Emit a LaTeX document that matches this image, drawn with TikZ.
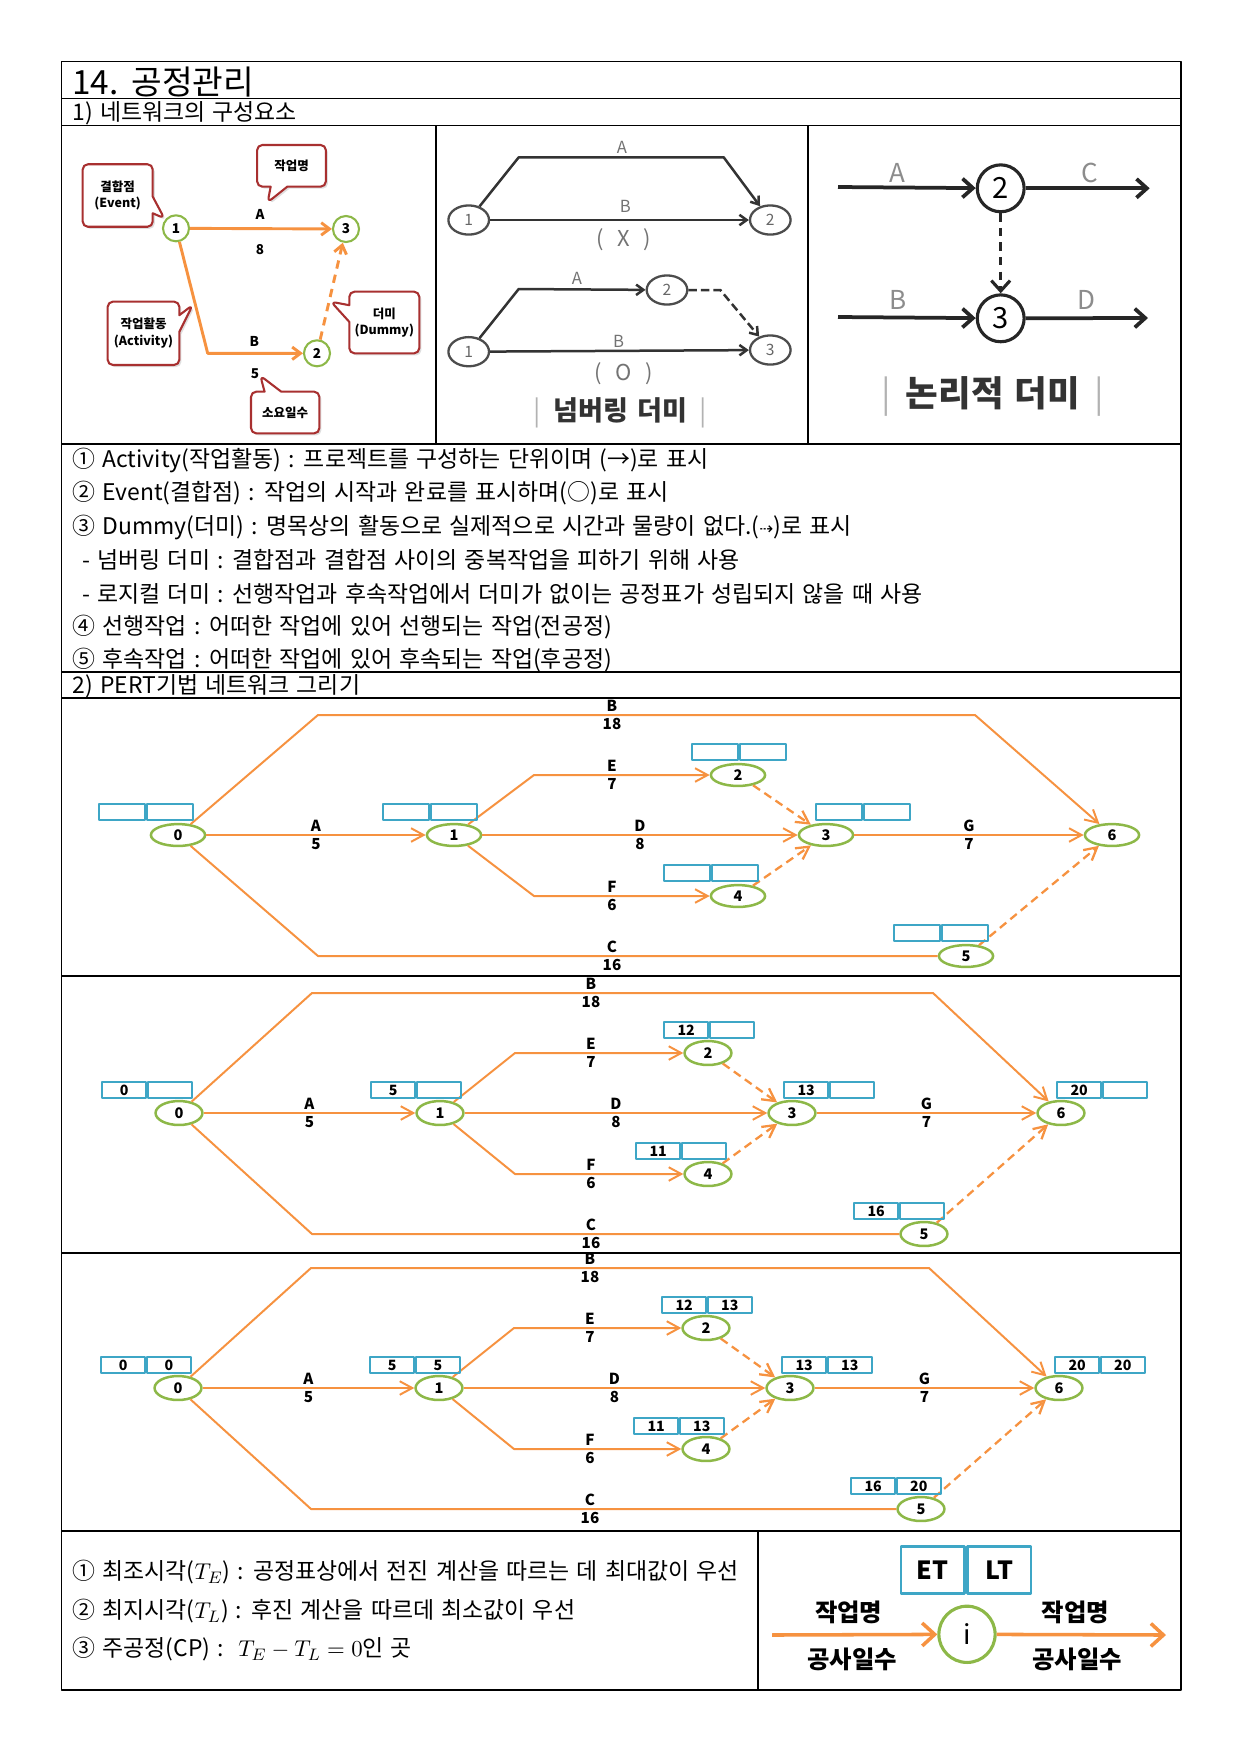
\documentclass[tikz,border=0pt]{standalone}
\usepackage{fontspec}
\setmainfont{Noto Sans CJK KR}[WordSpace=1.4]
\newfontfamily\symfont{DejaVu Sans}
\usetikzlibrary{arrows.meta,calc,shapes.geometric,shapes.callouts,shadows}
\definecolor{actorange}{RGB}{246,146,64}
\definecolor{evgreen}{RGB}{141,184,72}
\definecolor{boxblue}{RGB}{62,166,198}
\definecolor{notered}{RGB}{168,48,48}
\tikzset{
  ev/.style={ellipse, draw=evgreen, line width=1.2pt, inner sep=0pt, font=\fontsize{7}{7}\selectfont\bfseries},
  act/.style={draw=actorange, line width=0.95pt, -{Straight Barb[length=6pt,width=6.5pt]}},
  dum/.style={act, dash pattern=on 4pt off 2.5pt, line width=1.1pt},
  lbl/.style={inner sep=0pt, font=\fontsize{7.3}{7.3}\selectfont\bfseries},
  cell/.style={draw=boxblue, line width=0.9pt, minimum width=21pt, minimum height=7.5pt, inner sep=0pt, font=\fontsize{6.8}{6.8}\selectfont\bfseries},
  note/.style={rectangle callout, draw=notered, line width=1pt, rounded corners=2.5pt, fill=white, drop shadow={opacity=0.25, shadow xshift=1pt, shadow yshift=-1pt}, align=center, inner sep=1pt, font=\fontsize{6}{8}\selectfont\bfseries, callout pointer width=8pt},
  sev/.style={circle, draw=evgreen, line width=1pt, minimum size=12.5pt, inner sep=0pt, font=\fontsize{6.5}{6.5}\selectfont\bfseries},
  sact/.style={draw=actorange, line width=1.4pt, -{Straight Barb[length=4pt,width=6pt]}},
  slbl/.style={inner sep=0pt, font=\fontsize{6.5}{6.5}\selectfont\bfseries},
  mev/.style={ellipse, draw=black!70, line width=1.1pt, minimum width=19.5pt, minimum height=14pt, inner sep=0pt, text=black!60, font=\fontsize{7.5}{7.5}\selectfont},
  mline/.style={draw=black!80, line width=1.2pt, -{Straight Barb[length=3.5pt,width=5pt]}},
  mlbl/.style={inner sep=0pt, text=black!55, font=\fontsize{8}{8}\selectfont},
  rev/.style={circle, draw=black!85, line width=1.5pt, minimum size=22.5pt, inner sep=0pt, font=\fontsize{14}{14}\selectfont},
  rline/.style={draw=black!85, line width=1.8pt, -{Straight Barb[length=5pt,width=9pt]}},
  rlbl/.style={inner sep=0pt, text=black!45, font=\fontsize{12.5}{12.5}\selectfont},
  txt/.style={anchor=west, inner sep=0pt, font=\fontsize{11}{13}\selectfont},
  lcell/.style={draw=boxblue, line width=1.4pt, minimum width=30.5pt, minimum height=22.4pt, inner sep=0pt, font=\fontsize{12}{12}\selectfont\bfseries},
  ltxt/.style={inner sep=0pt, font=\fontsize{11.7}{12}\selectfont\bfseries},
  bigact/.style={draw=actorange, line width=1.7pt, -{Straight Barb[length=6pt,width=11pt]}}
}
\begin{document}
\begin{tikzpicture}[x=0.48pt, y=-0.48pt, line join=round]
\useasboundingbox (0,0) rectangle (1240,1755);
\draw[line width=0.6pt] (61.5,61.5) rectangle (1181,1690);
\foreach \y in {98.5,125.5,444,672,698,976,1253,1531} \draw[line width=0.6pt] (61.5,\y) -- (1181,\y);
\draw[line width=0.6pt] (436,125.5) -- (436,444) (808,125.5) -- (808,444) (758,1531) -- (758,1690);

\node[txt, font=\fontsize{16}{18}\selectfont] (title) at (72,82) {14. 공정관리};
\node[txt] (sec1) at (72,113.5) {1) 네트워크의 구성요소};
\node[txt] (sec2) at (72,686) {2) PERT기법 네트워크 그리기};

\node[sev] (e1) at (176,228.3) {1};
\node[sev] (e3) at (346,229) {3};
\node[sev] (e2) at (317,353.3) {2};
\coordinate (eB) at (207.7,353.3);
\draw[sact] (e1) -- (e3);
\draw[sact] (e1) -- (eB) -- (e2);
\draw[sact, dash pattern=on 4pt off 3pt] (e2) -- (e3);
\node[slbl] (eA) at (260,214) {A};
\node[slbl] (eA8) at (260,250) {8};
\node[slbl] (eBl) at (254.3,341) {B};
\node[slbl] (eB5) at (255,373.3) {5};
\node[note, minimum width=33.6pt, minimum height=30pt, callout absolute pointer={(164.3,218.3)}] (nEv) at (117.7,195.5) {결합점\\(Event)};
\node[note, minimum width=33pt, minimum height=20pt, callout absolute pointer={(267.7,202.3)}] (nName) at (291.5,165.8) {작업명};
\node[note, minimum width=34.4pt, minimum height=30.4pt, callout absolute pointer={(192.7,305)}] (nAct) at (143.5,333.3) {작업활동\\(Activity)};
\node[note, minimum width=33.6pt, minimum height=29.6pt, callout absolute pointer={(331,301.7)}] (nDum) at (384.3,322.5) {더미\\(Dummy)};
\node[note, minimum width=32.8pt, minimum height=20pt, callout absolute pointer={(260.3,375.7)}] (nDays) at (285.2,412.5) {소요일수};

\node[mev] (m1) at (468.7,220) {1};
\node[mev] (m2) at (770.3,220) {2};
\coordinate (mA1) at (518.7,157.3);
\coordinate (mA2) at (723.7,157.3);
\draw[mline] (m1) -- (mA1) -- (mA2) -- (m2);
\draw[mline] (m1) -- (m2);
\node[mlbl] (mA) at (622,147.7) {A};
\node[mlbl] (mB) at (625.3,206.7) {B};
\node[mlbl, font=\fontsize{10.5}{10.5}\selectfont] (mX) at (623.7,240) {(\ \ X\ \ )};
\node[mev] (q1) at (468.7,351.7) {1};
\node[mev] (q2) at (667,290) {2};
\node[mev] (q3) at (770.3,350) {3};
\coordinate (qA) at (518.7,289);
\coordinate (qD) at (720.3,290);
\draw[mline] (q1) -- (qA) -- (q2);
\draw[mline] (q1) -- (q3);
\draw[mline, dash pattern=on 4pt off 2pt] (q2) -- (qD) -- (q3);
\node[mlbl] (qAl) at (577,278.3) {A};
\node[mlbl] (qBl) at (618.7,341.7) {B};
\node[mlbl, font=\fontsize{10.5}{10.5}\selectfont] (qO) at (623.7,373.3) {(\ \ O\ \ )};
\node[inner sep=0pt, text=black!80, font=\fontsize{13}{13}\selectfont\bfseries] (numd) at (620.3,413.3) {{\color{black!30}\mdseries|}\hspace{6pt}넘버링 더미\hspace{6pt}{\color{black!30}\mdseries|}};

\node[rev] (r2) at (1000.7,188.3) {2};
\node[rev] (r3) at (1000.7,318.3) {3};
\coordinate (rA) at (838,187);
\coordinate (rC) at (1149.7,188.3);
\coordinate (rB) at (838,317);
\coordinate (rD) at (1148,318);
\draw[rline] (rA) -- (r2);
\draw[rline] (r2) -- (rC);
\draw[rline] (rB) -- (r3);
\draw[rline] (r3) -- (rD);
\draw[rline, line width=1.5pt, dash pattern=on 4pt off 3pt] (r2) -- (r3);
\node[rlbl] (rAl) at (897.3,173.3) {A};
\node[rlbl] (rCl) at (1089.7,173.3) {C};
\node[rlbl] (rBl) at (898,300) {B};
\node[rlbl] (rDl) at (1086.3,300) {D};
\node[inner sep=0pt, text=black!80, font=\fontsize{17}{17}\selectfont\bfseries] (logd) at (993,396) {{\color{black!30}\mdseries|}\hspace{7pt}논리적 더미\hspace{7pt}{\color{black!30}\mdseries|}};

\node[txt] (t1) at (72,460.5) {① Activity(작업활동) : 프로젝트를 구성하는 단위이며 (→)로 표시};
\node[txt] (t2) at (72,493.5) {② Event(결합점) : 작업의 시작과 완료를 표시하며(○)로 표시};
\node[txt] (t3) at (72,527) {③ Dummy(더미) : 명목상의 활동으로 실제적으로 시간과 물량이 없다.({\symfont\fontsize{8}{8}\selectfont ⇢})로 표시};
\node[txt] (t4) at (82,560) {- 넘버링 더미 : 결합점과 결합점 사이의 중복작업을 피하기 위해 사용};
\node[txt] (t5) at (82,593.5) {- 로지컬 더미 : 선행작업과 후속작업에서 더미가 없이는 공정표가 성립되지 않을 때 사용};
\node[txt] (t6) at (72,627) {④ 선행작업 : 어떠한 작업에 있어 선행되는 작업(전공정)};
\node[txt] (t7) at (72,660) {⑤ 후속작업 : 어떠한 작업에 있어 후속되는 작업(후공정)};

\foreach \k/\yc/\xa/\xb/\xc/\xd/\xe/\xf/\bl/\br/\ef/\lx/\ew/\eh in {
  1/835/178/454/738/826/966/1112/318/975/534/612/26/10.5,
  2/1113/179/440/708/792/924/1061/312/933/515/591/22.5/11.5,
  3/1388/178/439/706/790/921/1059/311/929/514/590/22.5/11.5}{
  \begin{scope}[every node/.append style={minimum width=\ew pt, minimum height=\eh pt}]
  \node[ev] (n\k-0) at (\xa,\yc) {0};
  \node[ev] (n\k-1) at (\xb,\yc) {1};
  \node[ev] (n\k-2) at (\xc,\yc-60) {2};
  \node[ev] (n\k-3) at (\xd,\yc) {3};
  \node[ev] (n\k-4) at (\xc,\yc+61) {4};
  \node[ev] (n\k-5) at (\xe,\yc+121) {5};
  \node[ev] (n\k-6) at (\xf,\yc) {6};
  \end{scope}
  \coordinate (b\k-l) at (\bl,\yc-120);
  \coordinate (b\k-r) at (\br,\yc-120);
  \coordinate (c\k-l) at (\bl,\yc+121);
  \coordinate (e\k) at (\ef,\yc-60);
  \coordinate (f\k) at (\ef,\yc+61);
  \draw[act] (n\k-0) -- (n\k-1);
  \draw[act] (n\k-0) -- (b\k-l) -- (b\k-r) -- (n\k-6);
  \draw[act, -] (n\k-0) -- (c\k-l) -- (n\k-5);
  \draw[act] (n\k-1) -- (e\k) -- (n\k-2);
  \draw[act] (n\k-1) -- (n\k-3);
  \draw[act] (n\k-1) -- (f\k) -- (n\k-4);
  \draw[act] (n\k-3) -- (n\k-6);
  \draw[dum] (n\k-2) -- (n\k-3);
  \draw[dum] (n\k-4) -- (n\k-3);
  \draw[dum] (n\k-5) -- (n\k-6);
  \node[lbl] (la\k) at ({(\xa+\xb)/2},\yc-9) {A};
  \node[lbl] (la\k d) at ({(\xa+\xb)/2},\yc+9) {5};
  \node[lbl] (ld\k) at ({(\xb+\xd)/2},\yc-9) {D};
  \node[lbl] (ld\k d) at ({(\xb+\xd)/2},\yc+9) {8};
  \node[lbl] (lg\k) at ({(\xd+\xf)/2},\yc-9) {G};
  \node[lbl] (lg\k d) at ({(\xd+\xf)/2},\yc+9) {7};
  \node[lbl] (lb\k) at (\lx,\yc-129) {B};
  \node[lbl] (lb\k d) at (\lx,\yc-111) {18};
  \node[lbl] (le\k) at (\lx,\yc-69) {E};
  \node[lbl] (le\k d) at (\lx,\yc-51) {7};
  \node[lbl] (lf\k) at (\lx,\yc+52) {F};
  \node[lbl] (lf\k d) at (\lx,\yc+70) {6};
  \node[lbl] (lc\k) at (\lx,\yc+112) {C};
  \node[lbl] (lc\k d) at (\lx,\yc+130) {16};
}
\foreach \i/\dx in {0/-32,1/-24,2/1,3/37,4/-27,5/-25}{
  \node[cell, anchor=east, minimum width=22pt] (n1-\i-et) at ($(n1-\i)+(\dx,-23)$) {};
  \node[cell, anchor=west, minimum width=22pt] (n1-\i-lt) at ($(n1-\i)+(\dx,-23)$) {};
}
\foreach \i/\dx/\et in {0/-32/0,1/-24/5,2/1/12,3/37/13,4/-27/11,5/-25/16,6/41/20}{
  \node[cell, anchor=east] (n2-\i-et) at ($(n2-\i)+(\dx,-23)$) {\et};
  \node[cell, anchor=west] (n2-\i-lt) at ($(n2-\i)+(\dx,-23)$) {};
}
\foreach \i/\dx/\et/\lt in {0/-32/0/0,1/-24/5/5,2/1/12/13,3/37/13/13,4/-27/11/13,5/-25/16/20,6/41/20/20}{
  \node[cell, anchor=east] (n3-\i-et) at ($(n3-\i)+(\dx,-23)$) {\et};
  \node[cell, anchor=west] (n3-\i-lt) at ($(n3-\i)+(\dx,-23)$) {\lt};
}

\node[txt] (c1) at (72,1572) {① 최조시각($T_E$) : 공정표상에서 전진 계산을 따르는 데 최대값이 우선};
\node[txt] (c2) at (72,1611) {② 최지시각($T_L$) : 후진 계산을 따르데 최소값이 우선};
\node[txt] (c3) at (72,1649) {③ 주공정(CP) :\ \ $T_E - T_L = 0$인 곳};

\node[lcell, anchor=east] (et) at (966,1570) {ET};
\node[lcell, anchor=west] (lt) at (966,1570) {LT};
\node[circle, draw=evgreen, line width=1.5pt, minimum size=27pt, inner sep=0pt, font=\fontsize{13}{13}\selectfont] (evi) at (967,1634.3) {i};
\coordinate (inL) at (772,1635);
\coordinate (outR) at (1166,1635);
\draw[bigact] (inL) -- (evi);
\draw[bigact] (evi) -- (outR);
\node[ltxt] (w1) at (848.7,1612.7) {작업명};
\node[ltxt] (d1) at (852,1659.3) {공사일수};
\node[ltxt] (w2) at (1075.3,1612.7) {작업명};
\node[ltxt] (d2) at (1077,1659.3) {공사일수};
\end{tikzpicture}
\end{document}
